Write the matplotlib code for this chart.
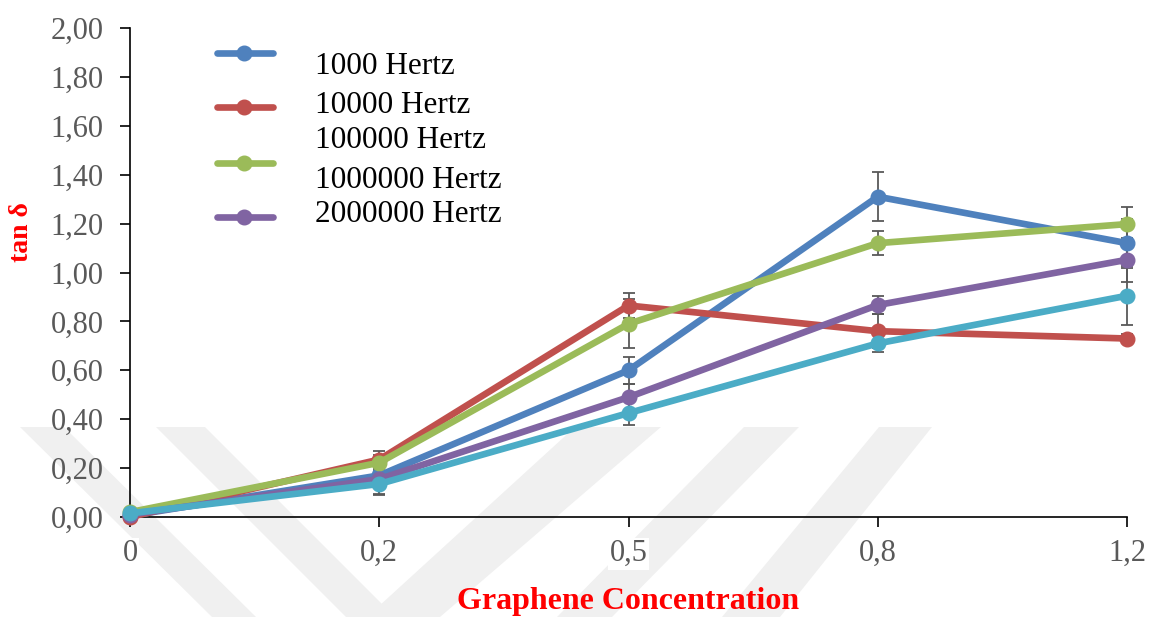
import numpy as np
import matplotlib
matplotlib.use("Agg")
from matplotlib import pyplot as plt
from matplotlib.lines import Line2D
from matplotlib.patches import Polygon

plt.rcParams['font.family'] = ['Liberation Serif', 'DejaVu Serif']

# graphene concentration (categories) and tan delta per frequency
concentrations = ["0", "0,2", "0,5", "0,8", "1,2"]
tan_1k = [0.005, 0.17, 0.60, 1.31, 1.12]
tan_10k = [0.0, 0.235, 0.865, 0.76, 0.73]
tan_100k = [0.02, 0.222, 0.79, 1.12, 1.198]
tan_2m = [0.01, 0.155, 0.49, 0.867, 1.052]
tan_1m = [0.015, 0.135, 0.425, 0.71, 0.905]

err_1k = [0.005, 0.03, 0.056, 0.10, 0.10]
err_10k = [0.005, 0.035, 0.05, 0.07, 0.02]
err_100k = [0.005, 0.03, 0.10, 0.05, 0.07]
err_2m = [0.005, 0.06, 0.055, 0.035, 0.09]
err_1m = [0.005, 0.045, 0.05, 0.035, 0.12]

legend_labels = ["1000 Hertz", "10000 Hertz", "100000 Hertz",
                 "1000000 Hertz", "2000000 Hertz"]

series = [
    (tan_1k, err_1k, "#4F81BD"),
    (tan_10k, err_10k, "#C0504D"),
    (tan_100k, err_100k, "#9BBB59"),
    (tan_2m, err_2m, "#8064A2"),
    (tan_1m, err_1m, "#4BACC6"),
]

W, H = 1150, 617
fig = plt.figure(figsize=(W / 100, H / 100), dpi=100)


def px(x, y):
    return (x / W, 1 - y / H)


# faint background bands
band_color = "#f0f0f0"
bands = [
    [(20, 427), (64, 427), (256, 617), (212, 617)],
    [(156, 427), (205, 427), (395, 617), (346, 617)],
    [(575, 427), (661, 427), (440, 617), (367, 617)],
    [(744, 427), (799, 427), (612, 617), (557, 617)],
    [(879, 427), (932, 427), (780, 617), (722, 617)],
]
for b in bands:
    fig.add_artist(Polygon([px(*p) for p in b], closed=True,
                           transform=fig.transFigure, facecolor=band_color,
                           edgecolor="none", zorder=-5))

ax = fig.add_axes([130 / W, 1 - 517 / H, (1127 - 130) / W, (517 - 28) / H])
ax.patch.set_visible(False)

x = np.arange(len(concentrations))
for vals, err, color in series:
    ax.errorbar(x, vals, yerr=err, fmt="none", ecolor="#595959",
                elinewidth=1.3, capsize=4.5, capthick=1.3, zorder=2,
                clip_on=False)
for vals, err, color in series:
    ax.plot(x, vals, "-o", color=color, lw=4.8, ms=10.5, zorder=3,
            clip_on=False, solid_joinstyle="round")

ax.set_xlim(0, len(concentrations) - 1)
ax.set_ylim(0, 2)
ax.set_xticks(x)
ax.set_xticklabels(concentrations)
yt = np.arange(0, 2.01, 0.2)
ax.set_yticks(yt)
ax.set_yticklabels([f"{v:.2f}".replace(".", ",") for v in yt])

for side in ("top", "right"):
    ax.spines[side].set_visible(False)
for side in ("left", "bottom"):
    ax.spines[side].set_linewidth(1.2)
    ax.spines[side].set_color("black")

ax.tick_params(axis="both", labelsize=22, labelcolor="#595959",
               length=7, width=1.2, color="black", direction="out")
ax.tick_params(axis="y", pad=12)
ax.tick_params(axis="x", pad=9)
for lab in ax.get_xticklabels():
    lab.set_bbox(dict(facecolor="white", edgecolor="none", pad=1))

fig.text(628 / W, 1 - 601 / H, "Graphene Concentration", color="red",
         fontsize=23, fontweight="bold", ha="center", va="center")
fig.text(22 / W, 1 - 232 / H, "tan δ", color="red", fontsize=20,
         fontweight="bold", rotation=90, ha="center", va="center")

# legend: four line samples with the labels set beside them
handle_rows = [52.7, 107, 163, 217]
for (vals, err, color), yy in zip(series[:4], handle_rows):
    x0, y0 = px(217, yy)
    x1, _ = px(273, yy)
    xm, _ = px(244, yy)
    fig.add_artist(Line2D([x0, x1], [y0, y0], transform=fig.transFigure,
                          color=color, lw=4.8, solid_capstyle="round"))
    fig.add_artist(Line2D([xm], [y0], transform=fig.transFigure,
                          color=color, marker="o", ms=10.5))

label_rows = [67, 106, 141, 180, 215]
for lab, yy in zip(legend_labels, label_rows):
    fig.text(315 / W, 1 - yy / H, lab, fontsize=22.5, color="black",
             ha="left", va="center")

fig.savefig("out.png", dpi=100)
